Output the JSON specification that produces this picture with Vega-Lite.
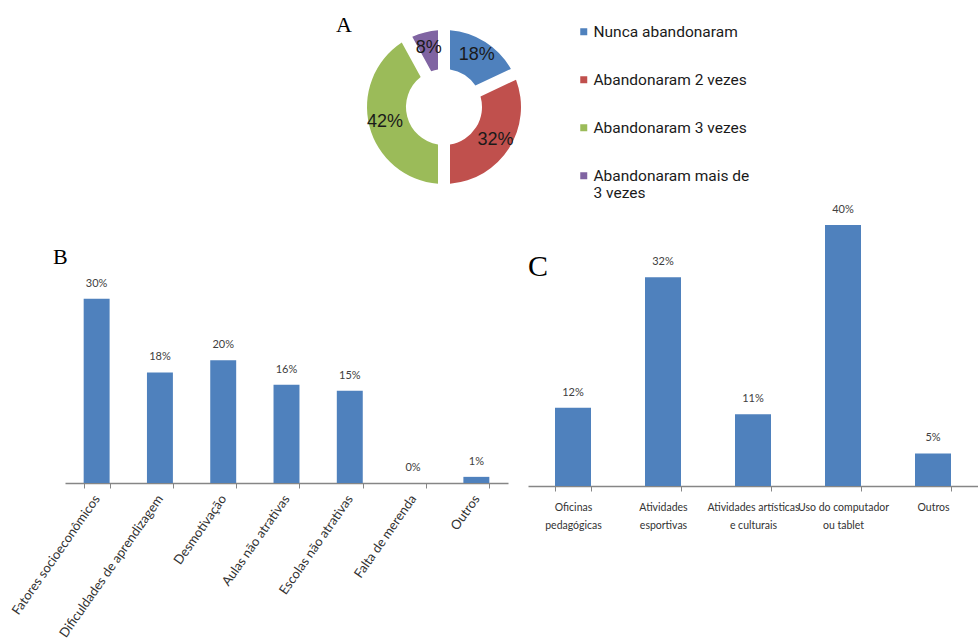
{
  "$schema": "https://vega.github.io/schema/vega-lite/v6.json",
  "padding": {"left": 9, "top": 0, "right": 0, "bottom": 0},
  "background": "white",
  "config": {
    "view": {"stroke": null},
    "concat": {"spacing": 20},
    "font": "Lato"
  },
  "bounds": "flush",
  "spacing": 11,
  "vconcat": [
    {
      "width": 758,
      "height": 214,
      "title": {"text": "A", "font": "Liberation Serif", "fontSize": 22, "fontWeight": "normal", "anchor": "start", "frame": "group", "dx": 271, "dy": 54, "offset": 0, "baseline": "alphabetic", "color": "#000000"},
      "data": {"values": [
        {"group": "Nunca abandonaram", "share": 0.18, "rank": 1},
        {"group": "Abandonaram 2 vezes", "share": 0.32, "rank": 2},
        {"group": "Abandonaram 3 vezes", "share": 0.42, "rank": 3},
        {"group": "Abandonaram mais de 3 vezes", "share": 0.08, "rank": 4}
      ]},
      "encoding": {
        "theta": {"field": "share", "type": "quantitative", "stack": true},
        "order": {"field": "rank", "type": "quantitative"}
      },
      "layer": [
        {
          "mark": {"type": "arc", "outerRadius": 77, "innerRadius": 38, "padAngle": 0.14},
          "encoding": {
            "color": {
              "field": "group", "type": "nominal",
              "scale": {"domain": ["Nunca abandonaram", "Abandonaram 2 vezes", "Abandonaram 3 vezes", "Abandonaram mais de 3 vezes"],
                        "range": ["#4F81BD", "#C0504D", "#9BBB59", "#8064A2"]},
              "legend": {
                "title": null, "orient": "none", "legendX": 511, "legendY": 24,
                "symbolType": "square", "symbolSize": 49, "symbolStrokeWidth": 0, "symbolOpacity": 1,
                "labelFont": "Roboto", "labelFontSize": 15.5, "labelColor": "#1a1a1a",
                "labelOffset": 2, "rowPadding": 31, "labelLimit": 300,
                "labelExpr": "datum.label == 'Abandonaram mais de 3 vezes' ? ['Abandonaram mais de', '3 vezes'] : datum.label"
              }
            }
          }
        },
        {
          "mark": {"type": "text", "radius": 61, "fontSize": 18, "font": "Liberation Sans", "color": "#1a1a1a"},
          "encoding": {"text": {"field": "share", "type": "quantitative", "format": ".0%"}}
        }
      ]
    },
    {
      "hconcat": [
        {
          "width": 443,
          "height": 258,
          "title": {"text": "B", "font": "Liberation Serif", "fontSize": 22, "fontWeight": "normal", "anchor": "start", "frame": "group", "dx": -12, "dy": 61, "offset": 0, "baseline": "alphabetic", "color": "#000000"},
          "data": {"values": [
            {"motivo": "Fatores socioeconômicos", "share": 0.30},
            {"motivo": "Dificuldades de aprendizagem", "share": 0.18},
            {"motivo": "Desmotivação", "share": 0.20},
            {"motivo": "Aulas não atrativas", "share": 0.16},
            {"motivo": "Escolas não atrativas", "share": 0.15},
            {"motivo": "Falta de merenda", "share": 0.00},
            {"motivo": "Outros", "share": 0.01}
          ]},
          "encoding": {
            "x": {"field": "motivo", "type": "nominal", "sort": null,
                  "scale": {"paddingInner": 0.59, "paddingOuter": 0.295},
                  "axis": {"title": null, "labelAngle": -55, "labelAlign": "right", "labelBaseline": "middle",
                           "labelFontSize": 13, "labelFont": "Lato", "labelColor": "#333333", "labelPadding": 8,
                           "domainColor": "#868686", "domainWidth": 1.5, "tickColor": "#868686", "tickSize": 5, "tickWidth": 1,
                           "tickBand": "extent", "labelLimit": 300}},
            "y": {"field": "share", "type": "quantitative", "scale": {"domain": [0, 0.42]}, "axis": null}
          },
          "layer": [
            {"mark": {"type": "bar", "color": "#4F81BD"}},
            {"mark": {"type": "text", "dy": -15, "fontSize": 11, "font": "Lato", "color": "#404040"},
             "encoding": {"text": {"field": "share", "type": "quantitative", "format": ".0%"}}}
          ]
        },
        {
          "width": 450,
          "height": 261,
          "title": {"text": "C", "font": "Liberation Serif", "fontSize": 30, "fontWeight": "normal", "anchor": "start", "frame": "group", "dx": 0, "dy": 102, "offset": 0, "baseline": "alphabetic", "color": "#000000"},
          "data": {"values": [
            {"atividade": "Oficinas\npedagógicas", "share": 0.12},
            {"atividade": "Atividades\nesportivas", "share": 0.32},
            {"atividade": "Atividades artísticas\ne culturais", "share": 0.11},
            {"atividade": "Uso do computador\nou tablet", "share": 0.40},
            {"atividade": "Outros", "share": 0.05}
          ]},
          "encoding": {
            "x": {"field": "atividade", "type": "nominal", "sort": null,
                  "scale": {"paddingInner": 0.6, "paddingOuter": 0.3},
                  "axis": {"title": null, "labelAngle": 0, "labelAlign": "center", "labelBaseline": "top",
                           "labelFontSize": 10.5, "labelFont": "Lato", "labelColor": "#333333", "labelPadding": 11,
                           "labelExpr": "split(datum.label, '\\n')", "labelLineHeight": 18,
                           "domainColor": "#868686", "domainWidth": 1.5, "tickColor": "#868686", "tickSize": 5, "tickWidth": 1,
                           "tickBand": "extent", "labelLimit": 300}},
            "y": {"field": "share", "type": "quantitative", "scale": {"domain": [0, 0.40]}, "axis": null}
          },
          "layer": [
            {"mark": {"type": "bar", "color": "#4F81BD"}},
            {"mark": {"type": "text", "dy": -15, "fontSize": 11, "font": "Lato", "color": "#404040"},
             "encoding": {"text": {"field": "share", "type": "quantitative", "format": ".0%"}}}
          ]
        }
      ]
    }
  ]
}
